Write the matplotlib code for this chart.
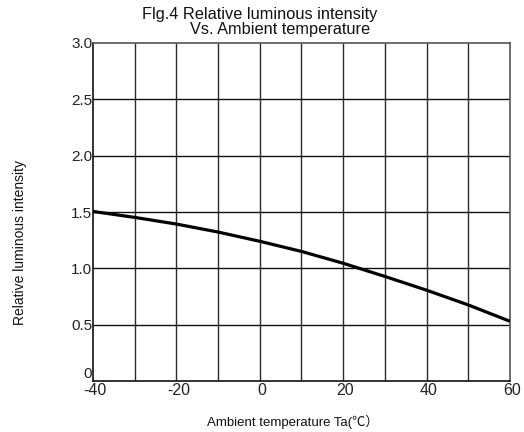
import matplotlib
matplotlib.use("Agg")
import matplotlib.pyplot as plt
from matplotlib.transforms import ScaledTranslation

temperature = [-40, -30, -20, -10, 0, 10, 20, 30, 40, 50, 60]
intensity = [1.505, 1.452, 1.393, 1.322, 1.240, 1.150, 1.045, 0.928, 0.806, 0.675, 0.53]

x_ticks = [-40, -20, 0, 20, 40, 60]
y_ticks = [0, 0.5, 1.0, 1.5, 2.0, 2.5, 3.0]
y_tick_labels = ["0", "0.5", "1.0", "1.5", "2.0", "2.5", "3.0"]

title_line1 = "Flg.4 Relative luminous intensity"
title_line2 = "Vs. Ambient temperature"
x_label = "Ambient temperature Ta(\u2103\uff09"
y_label = "Relative luminous intensity"

fam = ["Liberation Sans", "Noto Sans CJK SC", "DejaVu Sans"]
plt.rcParams["font.family"] = fam

W, H = 524, 432
fig = plt.figure(figsize=(W / 100, H / 100), dpi=100)
ax = fig.add_axes([93 / W, 1 - 381 / H, 417 / W, 338 / H])

ax.set_xlim(-40, 60)
ax.set_ylim(0, 3.0)

# grid
for xv in range(-30, 60, 10):
    ax.axvline(xv, color="#2a2a2a", lw=1.0, zorder=1)
for yv in [0.5, 1.0, 1.5, 2.0, 2.5]:
    ax.axhline(yv, color="#111111", lw=1.0, zorder=1)

ax.plot(temperature, intensity, color="black", lw=2.3, zorder=3,
        solid_capstyle="butt")

ax.set_xticks(x_ticks)
ax.set_xticklabels([str(v) for v in x_ticks], fontsize=11.5)
ax.set_yticks(y_ticks)
ax.set_yticklabels(y_tick_labels, fontsize=11)
ax.tick_params(axis="both", length=0, colors="#222222")
ax.tick_params(axis="x", pad=1.5)
ax.tick_params(axis="y", pad=0.5)
shift = ScaledTranslation(2 / 100, 0, fig.dpi_scale_trans)
for lab in ax.get_xticklabels():
    lab.set_transform(lab.get_transform() + shift)
for lab in ax.get_yticklabels():
    if lab.get_text() == "0":
        lab.set_verticalalignment("bottom")

for s in ["left", "bottom"]:
    ax.spines[s].set_color("#111111")
    ax.spines[s].set_linewidth(1.2)
for s in ["top", "right"]:
    ax.spines[s].set_color("#555555")
    ax.spines[s].set_linewidth(1.2)

fig.text(260 / W, 1 - 19 / H, title_line1, ha="center", va="baseline",
         fontsize=11.8, color="#111111")
fig.text(280 / W, 1 - 34 / H, title_line2, ha="center", va="baseline",
         fontsize=11.8, color="#111111")
fig.text(20.5 / W, 1 - 242.5 / H, y_label, rotation=90, ha="center",
         va="center", fontsize=10, color="#111111")
fig.text(293 / W, 1 - 426 / H, x_label, ha="center", va="baseline",
         fontsize=9.5, color="#111111")

fig.savefig("out.png", dpi=100, facecolor="white")
